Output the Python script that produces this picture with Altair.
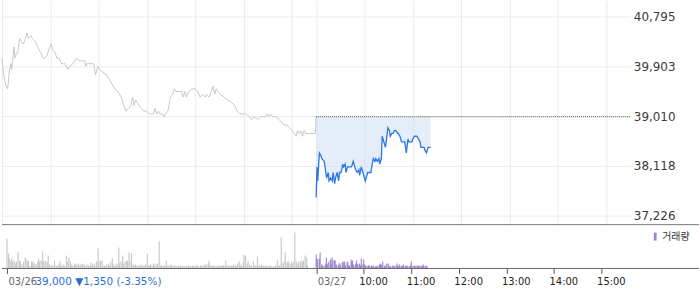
import altair as alt
import pandas as pd

# ---- layout constants ----
SESSION_MIN = 390          # 09:00-15:30
PLOT_W = 631
PRICE_H = 225
VOL_H = 42
FULL_W = 700

# ---- values ----
prev_close = 39000
close_change = -1350
close_pct = -3.35

price_ticks = [37226, 38118, 39010, 39903, 40795]
price_domain = [37065, 41081]
vol_domain = [0, 42]       # volume, hundreds of shares

axis_ticks = [0, 390, 450, 510, 570, 630, 690, 750]
axis_labels = ["03/26", "03/27", "10:00", "11:00", "12:00", "13:00", "14:00", "15:00"]
grid_ticks = [0, 60, 120, 180, 240, 300, 360, 390, 450, 510, 570, 630, 690, 750]

# day 1 (03/26) minutes after 09:00 and price
day1_min = [0, 2, 5, 7, 9, 11, 12, 15, 16, 17, 19, 20, 22, 24, 26, 28, 31, 33, 36, 38,
            41, 43, 46, 48, 51, 53, 56, 58, 61, 63, 66, 68, 71, 74, 78, 82, 84, 88, 93, 96,
            99, 103, 104, 105, 109, 114, 116, 119, 121, 125, 130, 134, 138, 140, 144, 148, 151, 154, 157, 160,
            162, 164, 166, 168, 170, 173, 176, 179, 183, 188, 190, 192, 194, 196, 199, 201, 203, 206, 209, 212,
            214, 216, 220, 223, 225, 227, 229, 232, 236, 240, 243, 246, 249, 252, 254, 257, 260, 262, 264, 266,
            268, 271, 276, 280, 285, 289, 292, 295, 299, 303, 307, 310, 313, 318, 321, 324, 327, 329, 331, 333,
            336, 340, 344, 347, 350, 354, 357, 360, 363, 365, 367, 369, 371, 373, 375, 377, 380, 389, 390]
day1_price = [40050, 39750, 39550, 39500, 39800, 39950, 39850, 40250, 40050, 40100, 40150, 40200, 40400, 40350, 40300, 40350, 40500, 40400, 40450, 40400,
              40350, 40300, 40200, 40150, 40050, 40050, 40100, 40200, 40300, 40200, 40150, 40050, 40050, 39950, 39950, 39850, 39900, 39950, 40050, 40000,
              40000, 40000, 39900, 39950, 39950, 39950, 39750, 39900, 39850, 39800, 39750, 39650, 39550, 39500, 39450, 39350, 39200, 39100, 39150, 39200,
              39350, 39200, 39300, 39250, 39200, 39150, 39100, 39100, 39050, 39050, 39150, 39050, 39100, 39050, 39050, 39000, 39050, 39100, 39350, 39400,
              39500, 39450, 39450, 39450, 39350, 39450, 39350, 39450, 39500, 39500, 39450, 39350, 39400, 39350, 39400, 39350, 39450, 39550, 39400, 39500,
              39450, 39400, 39350, 39300, 39250, 39200, 39100, 39050, 39050, 39050, 39000, 38950, 39000, 38950, 39000, 39000, 39000, 39050, 39000, 39050,
              39000, 39000, 38950, 38900, 38850, 38850, 38800, 38750, 38700, 38650, 38750, 38700, 38750, 38650, 38750, 38700, 38700, 38700, 39000]

# day 2 (03/27) minutes after 09:00 and price
day2_min = [0, 1, 2, 4, 6, 7, 10, 12, 13, 15, 16, 18, 20, 21, 23, 24, 26, 28, 29, 31,
            33, 34, 36, 37, 39, 41, 42, 44, 46, 48, 49, 51, 53, 54, 56, 58, 59, 61, 63, 64,
            66, 68, 69, 71, 73, 74, 76, 78, 79, 81, 82, 84, 86, 87, 89, 91, 92, 94, 96, 97,
            99, 101, 102, 104, 106, 107, 109, 110, 112, 114, 115, 117, 119, 120, 122, 124, 125, 127, 129, 130,
            132, 134, 135, 137, 139, 140, 142]
day2_price = [37550, 38100, 37850, 38350, 38300, 38250, 38200, 38000, 37900, 38000, 37850, 37900, 37850, 38000, 37800, 37900, 38000, 37850, 38000, 38000,
              38150, 38100, 38150, 38000, 38100, 38100, 38100, 38100, 38200, 38100, 38050, 38000, 38050, 37950, 38100, 38000, 37950, 37850, 37950, 38000,
              38000, 38000, 38100, 38250, 38200, 38250, 38200, 38250, 38150, 38250, 38650, 38550, 38450, 38550, 38800, 38750, 38650, 38700, 38700, 38750,
              38750, 38700, 38700, 38650, 38550, 38550, 38550, 38550, 38350, 38600, 38550, 38550, 38550, 38600, 38650, 38650, 38650, 38600, 38550, 38450,
              38450, 38450, 38400, 38350, 38450, 38450, 38450]

# volume bars, day 1
day1_vol_min = [0, 2, 3, 5, 6, 7, 9, 11, 12, 14,
                16, 17, 19, 21, 23, 24, 26, 27, 29, 31,
                32, 34, 35, 37, 39, 40, 41, 43, 45, 46,
                48, 49, 51, 52, 54, 56, 58, 60, 62, 64,
                66, 67, 69, 71, 73, 75, 76, 78, 80, 81,
                83, 85, 86, 88, 90, 92, 93, 95, 97, 98,
                100, 101, 103, 105, 106, 108, 110, 111, 113, 115,
                116, 118, 120, 121, 123, 125, 126, 128, 129, 131,
                133, 134, 136, 138, 139, 141, 142, 144, 146, 147,
                149, 151, 152, 154, 155, 157, 159, 160, 162, 164,
                165, 167, 169, 170, 172, 174, 175, 177, 178, 180,
                181, 183, 185, 186, 188, 190, 192, 194, 195, 197,
                199, 201, 202, 204, 206, 207, 209, 211, 212, 214,
                216, 217, 219, 221, 222, 224, 226, 227, 229, 231,
                232, 234, 235, 237, 239, 240, 242, 244, 245, 247,
                249, 250, 252, 254, 255, 257, 259, 260, 262, 264,
                265, 267, 268, 270, 272, 273, 275, 276, 278, 280,
                281, 283, 285, 286, 288, 290, 291, 293, 294, 296,
                298, 299, 301, 303, 304, 306, 308, 309, 311, 313,
                314, 316, 318, 319, 321, 323, 324, 326, 327, 329,
                331, 332, 334, 336, 337, 339, 341, 342, 344, 346,
                347, 349, 351, 352, 354, 355, 357, 359, 360, 362,
                363, 365, 366, 368, 370, 371, 373, 374, 376, 378,
                379]
day1_vol = [30, 15, 10, 8, 10, 7, 8, 5, 7, 17,
            8, 7, 4, 7, 11, 10, 7, 8, 3, 7,
            7, 6, 5, 4, 7, 10, 7, 8, 17, 7,
            7, 8, 6, 13, 4, 3, 3, 8, 3, 3,
            5, 7, 3, 4, 3, 13, 7, 11, 7, 4,
            3, 4, 5, 4, 5, 3, 4, 5, 4, 3,
            3, 4, 3, 3, 6, 4, 5, 3, 7, 20,
            7, 8, 8, 3, 3, 3, 4, 5, 3, 7,
            10, 4, 3, 5, 4, 21, 5, 7, 13, 5,
            7, 7, 8, 16, 7, 15, 4, 3, 4, 3,
            3, 3, 4, 3, 3, 3, 4, 15, 3, 3,
            4, 3, 5, 3, 4, 5, 27, 3, 3, 3,
            3, 8, 3, 3, 3, 4, 3, 3, 3, 2,
            3, 2, 3, 2, 3, 2, 3, 2, 3, 3,
            2, 3, 2, 3, 3, 3, 2, 3, 3, 3,
            4, 3, 4, 5, 8, 3, 3, 3, 3, 2,
            3, 2, 3, 3, 3, 3, 3, 8, 3, 3,
            3, 3, 3, 4, 3, 3, 5, 7, 4, 3,
            6, 14, 13, 4, 7, 4, 3, 3, 7, 3,
            3, 12, 3, 3, 4, 3, 2, 3, 2, 3,
            2, 3, 2, 2, 2, 3, 8, 3, 3, 31,
            5, 7, 16, 7, 6, 7, 5, 7, 5, 7,
            36, 7, 5, 7, 6, 8, 7, 8, 13, 11,
            3]

# volume bars, day 2
day2_vol_min = [0, 1, 2, 4, 5, 7, 8, 10, 12, 13,
                14, 15, 16, 18, 19, 20, 21, 23, 24, 25,
                26, 28, 29, 30, 31, 33, 34, 35, 36, 37,
                39, 40, 41, 42, 44, 45, 46, 47, 49, 50,
                51, 52, 54, 55, 56, 57, 59, 60, 61, 62,
                63, 65, 66, 67, 68, 70, 71, 72, 73, 75,
                76, 77, 78, 80, 81, 82, 83, 84, 86, 87,
                88, 89, 91, 92, 93, 94, 96, 97, 98, 99,
                101, 102, 103, 104, 105, 107, 108, 109, 110, 112,
                113, 114, 115, 117, 118, 119, 120, 122, 123, 124,
                125, 127, 128, 129, 130, 131, 133, 134, 135, 136,
                138, 139, 140]
day2_vol = [14, 10, 9, 10, 16, 4, 3, 3, 5, 11,
            4, 5, 7, 9, 5, 11, 9, 8, 8, 3,
            4, 3, 5, 5, 3, 6, 7, 5, 7, 3,
            6, 7, 3, 3, 9, 7, 8, 4, 3, 5,
            8, 4, 5, 4, 3, 10, 4, 9, 4, 3,
            3, 2, 3, 3, 2, 3, 2, 3, 2, 2,
            2, 2, 3, 4, 5, 3, 4, 7, 3, 2,
            3, 5, 5, 3, 2, 2, 3, 2, 3, 2,
            3, 5, 3, 2, 4, 3, 2, 3, 4, 2,
            3, 2, 3, 2, 2, 3, 7, 3, 2, 2,
            3, 3, 2, 3, 2, 3, 2, 3, 4, 3,
            2, 3, 2]

# ---- tables ----
d1 = pd.DataFrame({"t": day1_min, "price": day1_price})
d2 = pd.DataFrame({"t": [SESSION_MIN + m for m in day2_min], "price": day2_price})
d2["ref"] = prev_close
ref_df = pd.DataFrame({"t": [SESSION_MIN], "t2": [2 * SESSION_MIN], "price": [prev_close]})
v1 = pd.DataFrame({"t": day1_vol_min, "vol": day1_vol})
v2 = pd.DataFrame({"t": [SESSION_MIN + m for m in day2_vol_min], "vol": day2_vol})
v2["series"] = "거래량"
one = pd.DataFrame({"a": [0]})

FONT = "DejaVu Sans"
xs = alt.Scale(domain=[0, 2 * SESSION_MIN], nice=False, zero=False)
ys = alt.Scale(domain=price_domain, nice=False, zero=False)

x_top = alt.X("t:Q", scale=xs, axis=alt.Axis(values=grid_ticks, grid=True, gridColor="#ebebeb",
                                           labels=False, ticks=False, domain=False, title=None))
y_top = alt.Y("price:Q", scale=ys, axis=alt.Axis(orient="right", values=price_ticks, format=",d",
                                               grid=True, gridColor="#ebebeb", ticks=False, domain=False,
                                               labelPadding=3, labelFont=FONT, labelFontSize=12,
                                               labelColor="#3a3a3a", title=None))

area2 = alt.Chart(d2).mark_area(color="#cbdbf3", opacity=0.5).encode(x=x_top, y=y_top, y2="ref:Q")
line1 = alt.Chart(d1).mark_line(color="#c8c8c8", strokeWidth=1).encode(x=x_top, y=y_top)
refline = alt.Chart(ref_df).mark_rule(color="#555555", strokeDash=[1, 1], strokeWidth=1).encode(
    x=x_top, x2="t2:Q", y=y_top)
line2 = alt.Chart(d2).mark_line(color="#2b78e4", strokeWidth=1.3).encode(x=x_top, y=y_top)
border = alt.Chart(one).mark_rule(color="#777777", strokeWidth=1).encode(
    x=alt.value(0), x2=alt.value(FULL_W), y=alt.value(PRICE_H))

top = alt.layer(area2, line1, refline, line2, border).properties(width=PLOT_W, height=PRICE_H)

label_expr = " : ".join(f"datum.value == {v} ? '{l}'" for v, l in zip(axis_ticks, axis_labels)) + " : ''"
title_text = f"{prev_close:,} ▼{abs(close_change):,} ({close_pct:.2f}%)"
is_date = "datum.value == 0 || datum.value == 390"

x_bot = alt.X("t:Q", scale=xs, axis=alt.Axis(
    values=axis_ticks, labelExpr=label_expr, grid=False, domain=False,
    ticks=True, tickSize=5, tickColor="#555555",
    labelAlign="left", labelFlush=False, labelPadding=3, labelOverlap=False,
    labelOffset={"condition": {"test": is_date, "value": 1}, "value": -5},
    labelColor={"condition": {"test": is_date, "value": "#666666"}, "value": "#222222"},
    labelFont=FONT, labelFontSize=10,
    title=title_text, titleX=33, titleY=8, titleAlign="left", titleBaseline="top",
    titleColor="#2b6fd6", titleFont=FONT, titleFontSize=10.5, titleFontWeight="normal"))
y_vol = alt.Y("vol:Q", scale=alt.Scale(domain=vol_domain, nice=False, zero=True), axis=None)

bars1 = alt.Chart(v1).mark_bar(width=1.2, color="#c8c9cc").encode(x=x_bot, y=y_vol)
bars2 = alt.Chart(v2).mark_bar(width=1.1).encode(
    x=x_bot, y=y_vol,
    color=alt.Color("series:N", scale=alt.Scale(domain=["거래량"], range=["#9b84c9"]),
                    legend=alt.Legend(title=None, orient="none", legendX=651, legendY=232,
                                      symbolType="M-0.35,-1H0.35V1H-0.35Z", symbolSize=64,
                                      symbolStrokeWidth=0, labelFont="Noto Sans CJK KR",
                                      labelFontSize=10, labelColor="#333333", labelOffset=2,
                                      padding=0)))
vaxis = alt.Chart(one).mark_rule(color="#666666", strokeWidth=1).encode(
    x=alt.value(0), x2=alt.value(FULL_W), y=alt.value(VOL_H))

bottom = alt.layer(bars1, bars2, vaxis).properties(width=PLOT_W, height=VOL_H)

chart = alt.vconcat(top, bottom, spacing=1).properties(
    padding={"left": 0, "top": 0, "right": 0, "bottom": 0}, background="white"
).configure_view(stroke=None)

chart.save("out.html", embed_options={"renderer": "svg", "actions": False})
